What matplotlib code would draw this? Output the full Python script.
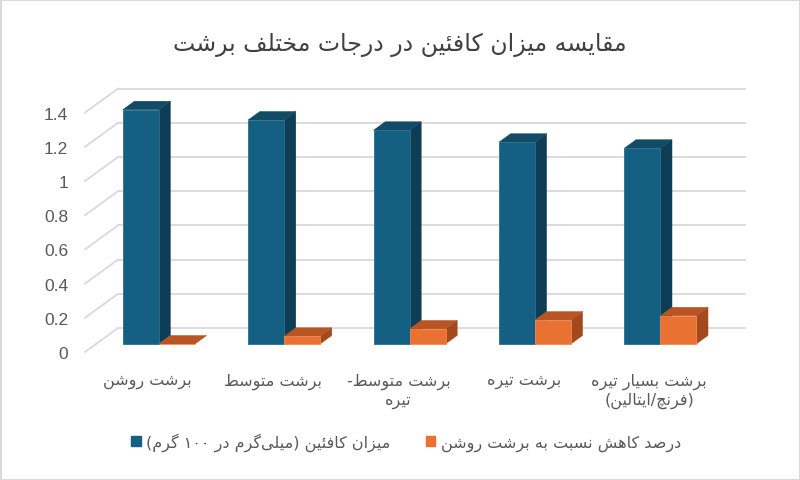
import re
import numpy as np
import matplotlib
matplotlib.use("Agg")
import matplotlib.pyplot as plt
import matplotlib.transforms as mtransforms
from matplotlib.patches import Polygon, Patch

# ---------------- data ----------------
categories = ["برشت روشن", "برشت متوسط", "برشت متوسط-\nتیره", "برشت تیره",
              "برشت بسیار تیره\n(فرنچ/ایتالین)"]
caffeine = [1.37, 1.31, 1.25, 1.18, 1.145]
reduction = [0.0, 0.045, 0.088, 0.14, 0.165]
series_names = ["میزان کافئین (میلی\u200cگرم در ۱۰۰ گرم)", "درصد کاهش نسبت به برشت روشن"]
title = "مقایسه میزان کافئین در درجات مختلف برشت"
yticks = [0, 0.2, 0.4, 0.6, 0.8, 1.0, 1.2, 1.4]
ytick_labels = ["0", "0.2", "0.4", "0.6", "0.8", "1", "1.2", "1.4"]

# ---------------- simple Arabic/Persian shaping + RTL ordering ----------------
FORMS = {
    'ا': (0xFE8D, 0xFE8E), 'آ': (0xFE81, 0xFE82), 'أ': (0xFE83, 0xFE84), 'إ': (0xFE87, 0xFE88),
    'د': (0xFEA9, 0xFEAA), 'ذ': (0xFEAB, 0xFEAC), 'ر': (0xFEAD, 0xFEAE), 'ز': (0xFEAF, 0xFEB0),
    'ژ': (0xFB8A, 0xFB8B), 'و': (0xFEED, 0xFEEE), 'ؤ': (0xFE85, 0xFE86),
    'ب': (0xFE8F, 0xFE90, 0xFE91, 0xFE92), 'پ': (0xFB56, 0xFB57, 0xFB58, 0xFB59),
    'ت': (0xFE95, 0xFE96, 0xFE97, 0xFE98), 'ث': (0xFE99, 0xFE9A, 0xFE9B, 0xFE9C),
    'ج': (0xFE9D, 0xFE9E, 0xFE9F, 0xFEA0), 'چ': (0xFB7A, 0xFB7B, 0xFB7C, 0xFB7D),
    'ح': (0xFEA1, 0xFEA2, 0xFEA3, 0xFEA4), 'خ': (0xFEA5, 0xFEA6, 0xFEA7, 0xFEA8),
    'س': (0xFEB1, 0xFEB2, 0xFEB3, 0xFEB4), 'ش': (0xFEB5, 0xFEB6, 0xFEB7, 0xFEB8),
    'ص': (0xFEB9, 0xFEBA, 0xFEBB, 0xFEBC), 'ض': (0xFEBD, 0xFEBE, 0xFEBF, 0xFEC0),
    'ط': (0xFEC1, 0xFEC2, 0xFEC3, 0xFEC4), 'ظ': (0xFEC5, 0xFEC6, 0xFEC7, 0xFEC8),
    'ع': (0xFEC9, 0xFECA, 0xFECB, 0xFECC), 'غ': (0xFECD, 0xFECE, 0xFECF, 0xFED0),
    'ف': (0xFED1, 0xFED2, 0xFED3, 0xFED4), 'ق': (0xFED5, 0xFED6, 0xFED7, 0xFED8),
    'ک': (0xFB8E, 0xFB8F, 0xFB90, 0xFB91), 'گ': (0xFB92, 0xFB93, 0xFB94, 0xFB95),
    'ل': (0xFEDD, 0xFEDE, 0xFEDF, 0xFEE0), 'م': (0xFEE1, 0xFEE2, 0xFEE3, 0xFEE4),
    'ن': (0xFEE5, 0xFEE6, 0xFEE7, 0xFEE8), 'ه': (0xFEE9, 0xFEEA, 0xFEEB, 0xFEEC),
    'ی': (0xFBFC, 0xFBFD, 0xFBFE, 0xFBFF), 'ئ': (0xFE89, 0xFE8A, 0xFE8B, 0xFE8C),
}


def dual(c):
    return c in FORMS and len(FORMS[c]) == 4


def shape(s):
    out = []
    for i, c in enumerate(s):
        if c not in FORMS:
            if c != '\u200c':
                out.append(c)
            continue
        prev = s[i - 1] if i > 0 else ''
        nxt = s[i + 1] if i + 1 < len(s) else ''
        jp = dual(prev)
        jn = dual(c) and nxt in FORMS
        f = FORMS[c]
        if jp and jn:
            g = f[3]
        elif jp:
            g = f[1]
        elif jn:
            g = f[2]
        else:
            g = f[0]
        out.append(chr(g))
    return ''.join(out)


def rtl(s):
    lines = []
    for line in s.split('\n'):
        r = shape(line)[::-1]
        r = re.sub(r'[0-9\u06F0-\u06F9]+', lambda m: m.group(0)[::-1], r)
        r = r.translate(str.maketrans({'(': ')', ')': '('}))
        lines.append(r)
    return '\n'.join(lines)


# ---------------- styling ----------------
BLUE, BLUE_SIDE, BLUE_TOP = "#156082", "#0E3E55", "#114B66"
ORANGE, ORANGE_SIDE, ORANGE_TOP = "#E97132", "#A3491D", "#B85522"
GRID = "#D9D9D9"
TXT = "#595959"
AR_FONT = "DejaVu Sans"
NUM_FONT = "Liberation Sans"

W, H = 800, 481
fig = plt.figure(figsize=(W / 100, H / 100), dpi=100)
fig.patch.set_facecolor("white")
fig.patch.set_edgecolor("#D9D9D9")
fig.patch.set_linewidth(2)

# bar plane axes
PX_X = 627 / 5.0     # pixels per category
PX_Y = 171.0         # pixels per value unit
ax = fig.add_axes([96 / W, 1 - 345 / H, 627 / W, 1.4 * PX_Y / H])
ax.set_xlim(0, 5)
ax.set_ylim(0, 1.4)
for sp in ax.spines.values():
    sp.set_visible(False)
ax.patch.set_alpha(0)

DX = 33 / PX_X
DY = 24 / PX_Y
ZB = 1 / 3.0          # depth of bar front faces
ZD = 0.355            # bar depth


def P(x, y, z):
    return (x + (z - ZB) * DX, y + (z - ZB) * DY)


# walls gridlines
for v in yticks:
    a, b = P(0, v, 1), P(5, v, 1)
    ax.plot([a[0], b[0]], [a[1], b[1]], color=GRID, lw=1.3, clip_on=False, zorder=1)
    a, b = P(0, v, 0), P(0, v, 1)
    ax.plot([a[0], b[0]], [a[1], b[1]], color=GRID, lw=1.3, clip_on=False, zorder=1)

centers = np.arange(len(categories)) + 0.5
bw = 36 / PX_X


def box(x0, x1, h, front, side, top, z):
    zf, zb = ZB, ZB + ZD
    ax.add_patch(Polygon([P(x1, 0, zf), P(x1, h, zf), P(x1, h, zb), P(x1, 0, zb)],
                         closed=True, facecolor=side, edgecolor=side, lw=0.3,
                         clip_on=False, zorder=z))
    ax.add_patch(Polygon([P(x0, h, zf), P(x1, h, zf), P(x1, h, zb), P(x0, h, zb)],
                         closed=True, facecolor=top, edgecolor=top, lw=0.3,
                         clip_on=False, zorder=z))


bars_b = ax.bar(centers - bw, caffeine, width=bw, align='edge', color=BLUE,
                edgecolor="#2A6F8E", linewidth=0.6, zorder=3, clip_on=False)
bars_o = ax.bar(centers, reduction, width=bw, align='edge', color=ORANGE,
                edgecolor="#EE8A50", linewidth=0.6, zorder=5, clip_on=False)
for c, h in zip(centers, caffeine):
    box(c - bw, c, h, BLUE, BLUE_SIDE, BLUE_TOP, 2.9)
for c, h in zip(centers, reduction):
    box(c, c + bw, h, ORANGE, ORANGE_SIDE, ORANGE_TOP, 4.9)

# ticks (front plane offset)
front = mtransforms.ScaledTranslation(-11 / 100, -8 / 100, fig.dpi_scale_trans)
ax.set_yticks(yticks, ytick_labels)
ax.set_xticks(centers, [rtl(c) for c in categories])
ax.tick_params(axis='both', length=0, colors=TXT)
ax.tick_params(axis='y', pad=12, labelsize=12.5)
ax.tick_params(axis='x', pad=15, labelsize=11.5)
for lab in ax.get_yticklabels():
    lab.set_fontfamily(NUM_FONT)
    lab.set_transform(lab.get_transform() + front)
for lab in ax.get_xticklabels():
    lab.set_fontfamily(AR_FONT)
    lab.set_multialignment('center')
    lab.set_linespacing(1.25)
    lab.set_transform(lab.get_transform() + front)

# title
fig.text(0.5, 1 - 45 / H, rtl(title), ha='center', va='center', fontsize=17,
         color="#404040", family=AR_FONT)

# legend
handles = [Patch(facecolor=BLUE, edgecolor=BLUE), Patch(facecolor=ORANGE, edgecolor=ORANGE)]
fig.legend(handles, [rtl(s) for s in series_names], loc='center',
           bbox_to_anchor=(406 / W, 1 - 443 / H), ncol=2, frameon=False,
           prop={'family': AR_FONT, 'size': 11.5}, labelcolor=TXT,
           handlelength=0.6, handleheight=0.6, handletextpad=0.35, columnspacing=2.2)

fig.savefig("out.png", dpi=100, facecolor=fig.get_facecolor(), edgecolor=fig.get_edgecolor())
